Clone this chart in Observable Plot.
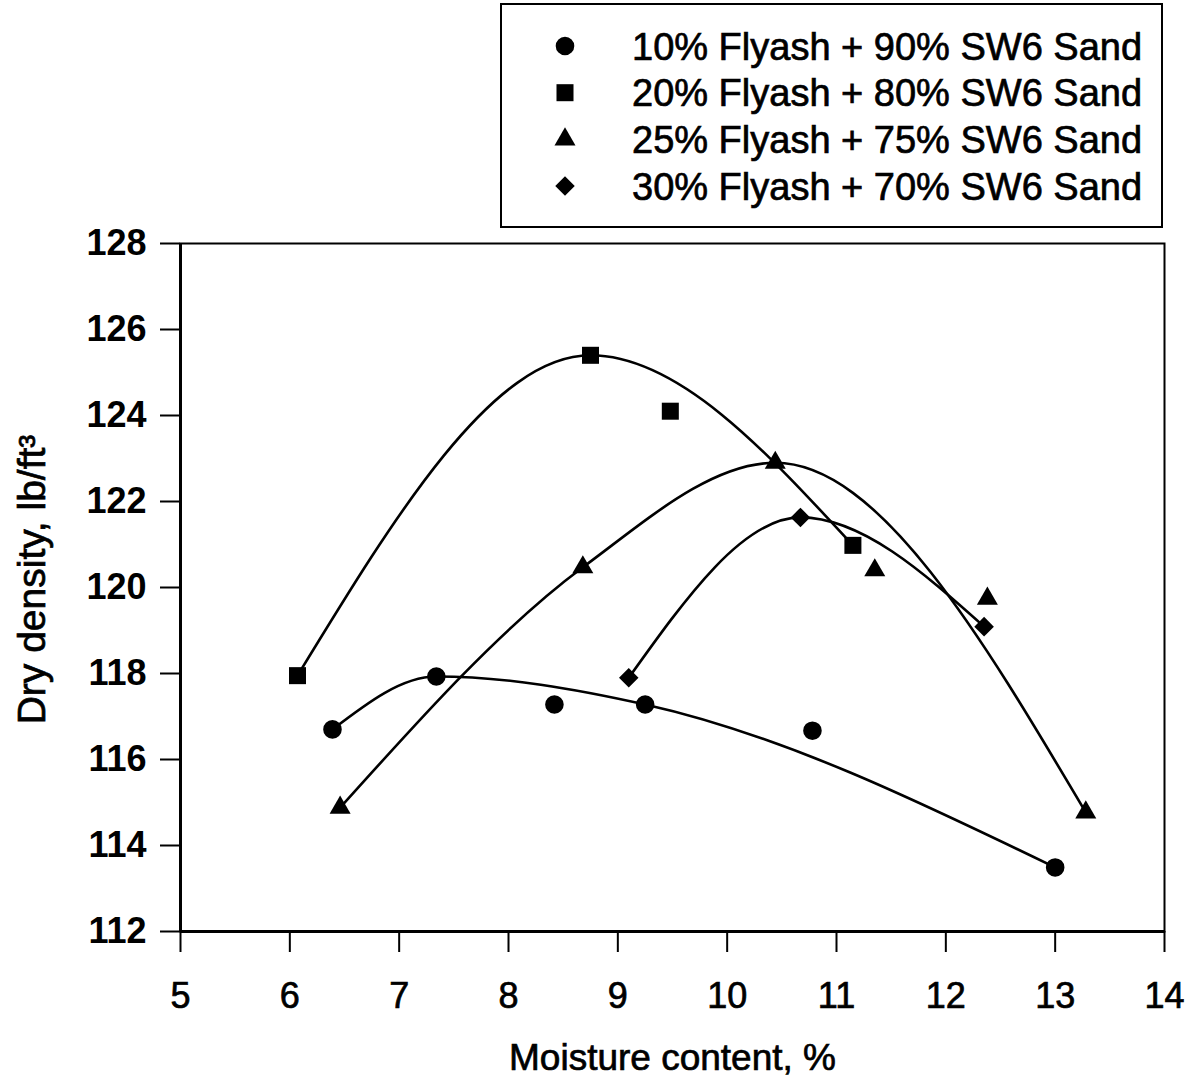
<!DOCTYPE html>
<html>
<head>
<meta charset="utf-8">
<script src="https://cdn.jsdelivr.net/npm/d3@7"></script>
<script src="https://cdn.jsdelivr.net/npm/@observablehq/plot@0.6"></script>
<style>
  html, body { margin: 0; padding: 0; background: #fff; }
  #wrap { position: relative; width: 1195px; height: 1084px; font-family: "Liberation Sans", Arial, sans-serif; }
  #legend { position: absolute; left: 500px; top: 3px; }
  #wrap svg text.heavy, #wrap svg g.heavy text,
  #wrap svg g[aria-label="x-axis tick label"] text { stroke: black; stroke-width: 0.7px; }
</style>
</head>
<body>
<div id="wrap"></div>
<script>
// ---- data ----
const seriesNames = [
  "10% Flyash + 90% SW6 Sand",
  "20% Flyash + 80% SW6 Sand",
  "25% Flyash + 75% SW6 Sand",
  "30% Flyash + 70% SW6 Sand"
];
const seriesSymbols = ["circle", "square", "triangle", "diamond2"];

const moisture10 = [6.39, 7.34, 8.42, 9.25, 10.78, 13.0];
const density10  = [116.70, 117.93, 117.28, 117.28, 116.67, 113.49];
const onCurve10  = [true, true, false, true, false, true];

const moisture20 = [6.07, 8.75, 9.48, 11.15];
const density20  = [117.95, 125.40, 124.10, 120.98];
const onCurve20  = [true, true, false, true];

const moisture25 = [6.46, 8.68, 10.44, 11.35, 12.38, 13.28];
const density25  = [114.88, 120.47, 122.90, 120.40, 119.74, 114.77];
const onCurve25  = [true, true, true, false, false, true];

const moisture30 = [9.10, 10.67, 12.35];
const density30  = [117.90, 121.63, 119.09];
const onCurve30  = [true, true, true];

const xTicks = [5, 6, 7, 8, 9, 10, 11, 12, 13, 14];
const yTicks = [112, 114, 116, 118, 120, 122, 124, 126, 128];
const xTitle = "Moisture content, %";
const yTitle = "Dry density, lb/ft³";

// ---- build tables ----
const xs = [moisture10, moisture20, moisture25, moisture30];
const ys = [density10, density20, density25, density30];
const on = [onCurve10, onCurve20, onCurve25, onCurve30];
const points = [];
xs.forEach((arr, i) => arr.forEach((x, j) =>
  points.push({series: seriesNames[i], symbol: seriesSymbols[i], x, y: ys[i][j], onCurve: on[i][j]})));

const symbolR = {circle: 9.3, square: 9.6, triangle: 7.8, diamond2: 8.8};

const marks = [
  Plot.line(points.filter(d => d.onCurve), {x: "x", y: "y", z: "series", stroke: "black", strokeWidth: 2.6, curve: "monotone-x"}),
  ...seriesSymbols.map(sym =>
    Plot.dot(points.filter(d => d.symbol === sym), {
      x: "x", y: "y", symbol: "symbol", fill: "black", stroke: "none", r: symbolR[sym]
    })
  ),
  Plot.frame({stroke: "black", strokeWidth: 2}),
  Plot.ruleX([5], {stroke: "black", strokeWidth: 3}),
  Plot.ruleY([112], {stroke: "black", strokeWidth: 3}),
  Plot.axisX({ticks: xTicks, tickSize: 21, tickPadding: 30, fontSize: 36, label: null, strokeWidth: 2}),
  Plot.axisY({ticks: yTicks, tickSize: 20, tickPadding: 14, fontSize: 36, fontWeight: "bold", label: null, strokeWidth: 2}),
  Plot.text([xTitle], {text: d => d, frameAnchor: "bottom", dy: 138, fontSize: 37, fill: "black", className: "heavy"}),
  Plot.text([yTitle], {text: d => d, frameAnchor: "left", textAnchor: "middle", lineAnchor: "middle", dx: -148, dy: -8, rotate: -90, fontSize: 39, fill: "black", className: "heavy"})
];

const chart = Plot.plot({
  width: 1195,
  height: 1084,
  marginLeft: 180,
  marginRight: 31,
  marginTop: 243,
  marginBottom: 153,
  x: {domain: [5, 14]},
  y: {domain: [112, 128]},
  symbol: {domain: seriesSymbols, range: seriesSymbols},
  style: {fontFamily: "'Liberation Sans', Arial, sans-serif", color: "black", background: "white", overflow: "visible"},
  marks
});
document.getElementById("wrap").appendChild(chart);

// ---- legend box ----
const lw = 663, lh = 225;
const leg = d3.select("#wrap").append("svg")
  .attr("id", "legend").attr("width", lw).attr("height", lh);
leg.append("rect").attr("x", 1).attr("y", 1).attr("width", lw - 2).attr("height", lh - 2)
  .attr("fill", "white").attr("stroke", "black").attr("stroke-width", 2);
const symMap = {circle: d3.symbolCircle, square: d3.symbolSquare, triangle: d3.symbolTriangle, diamond2: d3.symbolDiamond2};
seriesNames.forEach((s, i) => {
  const cy = 43 + i * 46.7;
  const sym = seriesSymbols[i];
  const r = symbolR[sym];
  leg.append("path")
    .attr("transform", `translate(65,${cy})`)
    .attr("d", d3.symbol(symMap[sym], Math.PI * r * r)())
    .attr("fill", "black");
  leg.append("text")
    .attr("class", "heavy")
    .attr("x", 132).attr("y", cy).attr("dy", "0.36em")
    .attr("font-size", 38).attr("font-family", "'Liberation Sans', Arial, sans-serif")
    .attr("fill", "black")
    .text(s);
});
</script>
</body>
</html>
